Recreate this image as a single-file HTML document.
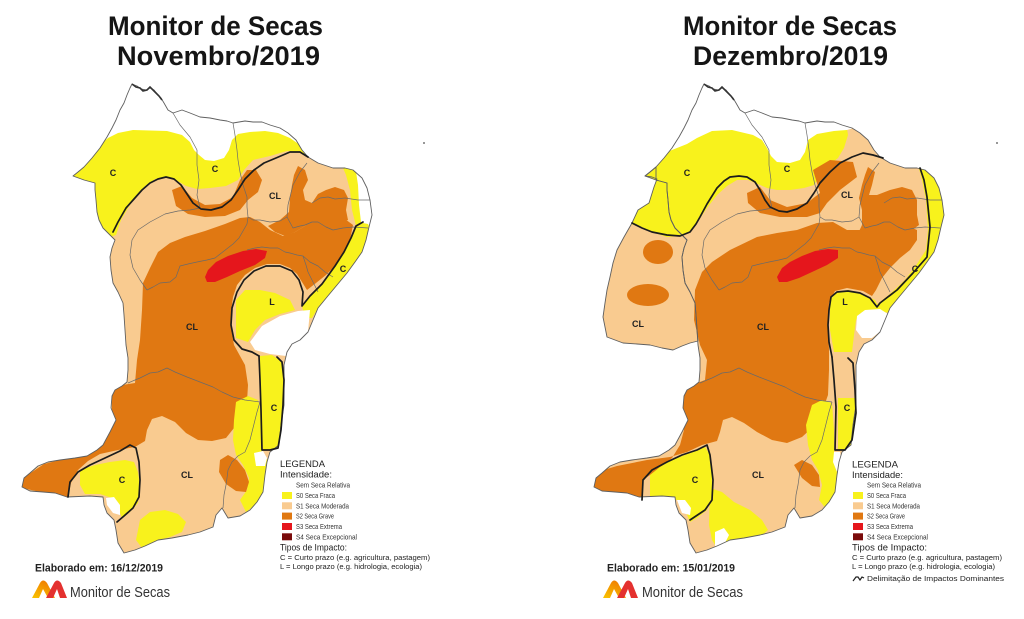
<!DOCTYPE html>
<html><head><meta charset="utf-8"><style>
html,body{margin:0;padding:0;background:#fff}
svg{display:block}
</style></head><body>
<svg width="1024" height="619" viewBox="0 0 1024 619" xmlns="http://www.w3.org/2000/svg" font-family="'Liberation Sans', Arial, sans-serif">
<defs>
<linearGradient id="lg" x1="0" y1="1" x2="0.6" y2="0"><stop offset="0" stop-color="#f9c400"/><stop offset="1" stop-color="#f07e00"/></linearGradient>
<clipPath id="clipL"><path d="M132,84 L137,86 L141,89 L146,90 L150,88 L154,90 L157,94 L161,98 L164,103 L168,110 L173,113 L182,110 L190,113 L200,117 L210,118 L220,120 L227,121 L233,123 L245,121 L253,122 L262,122 L270,125 L280,128 L288,133 L296,140 L302,150 L308,157 L318,163 L333,168 L345,168 L353,170 L362,178 L367,188 L370,200 L372,215 L369,227 L366,240 L362,252 L355,262 L347,273 L337,285 L327,297 L318,308 L313,320 L308,332 L300,340 L292,344 L287,352 L284,365 L284,385 L284,405 L281,425 L279,445 L270,452 L267,462 L265,475 L263,492 L257,502 L250,510 L240,516 L228,518 L222,508 L216,515 L213,527 L200,532 L188,535 L172,538 L158,540 L145,546 L135,550 L124,553 L118,543 L116,530 L114,520 L107,513 L104,505 L103,497 L90,496 L67,497 L55,493 L43,492 L30,491 L22,487 L24,478 L30,473 L38,466 L48,462 L60,460 L75,458 L87,456 L97,450 L103,445 L110,432 L116,420 L111,408 L112,396 L115,390 L122,386 L127,382 L128,370 L128,358 L126,345 L125,330 L124,315 L123,303 L118,292 L113,283 L111,270 L110,257 L112,248 L115,240 L109,234 L103,228 L99,220 L97,212 L96,200 L95,190 L95,183 L84,180 L73,176 L78,172 L84,167 L92,158 L100,148 L107,137 L112,128 L116,120 L120,110 L124,103 L127,95 L130,88 Z"/></clipPath>
<clipPath id="clipR"><path d="M132,84 L137,86 L141,89 L146,90 L150,88 L154,90 L157,94 L161,98 L164,103 L168,110 L173,113 L182,110 L190,113 L200,117 L210,118 L220,120 L227,121 L233,123 L245,121 L253,122 L262,122 L270,125 L280,128 L288,133 L296,140 L302,150 L308,157 L318,163 L333,168 L345,168 L353,170 L362,178 L367,188 L370,200 L372,215 L369,227 L366,240 L362,252 L355,262 L347,273 L337,285 L327,297 L318,308 L313,320 L308,332 L300,340 L292,344 L287,352 L284,365 L284,385 L284,405 L281,425 L279,445 L270,452 L267,462 L265,475 L263,492 L257,502 L250,510 L240,516 L228,518 L222,508 L216,515 L213,527 L200,532 L188,535 L172,538 L158,540 L145,546 L135,550 L124,553 L118,543 L116,530 L114,520 L107,513 L104,505 L103,497 L90,496 L67,497 L55,493 L43,492 L30,491 L22,487 L24,478 L30,473 L38,466 L48,462 L60,460 L75,458 L87,456 L97,450 L103,445 L110,432 L116,420 L111,408 L112,396 L115,390 L122,386 L127,382 L128,370 L128,358 L126,345 L125,330 L124,315 L123,303 L118,292 L113,283 L111,270 L110,257 L112,248 L115,240 L109,234 L103,228 L99,220 L97,212 L96,200 L95,190 L95,183 L84,180 L73,176 L78,172 L84,167 L92,158 L100,148 L107,137 L112,128 L116,120 L120,110 L124,103 L127,95 L130,88 Z"/><path d="M84,167 L78,172 L73,176 L80,177 L85,179 L82,187 L77,203 L66,210 L60,223 L52,237 L45,250 L41,263 L38,277 L35,290 L33,303 L31,317 L35,337 L51,343 L65,344 L78,345 L90,348 L101,350 L110,346 L118,343 L126,341 L125,330 L124,315 L123,303 L118,292 L113,283 L111,270 L110,257 L112,248 L115,240 L109,234 L103,228 L99,220 L97,212 L96,200 L95,190 L95,183 L84,180 Z"/></clipPath>
<path id="OL" d="M132,84 L137,86 L141,89 L146,90 L150,88 L154,90 L157,94 L161,98 L164,103 L168,110 L173,113 L182,110 L190,113 L200,117 L210,118 L220,120 L227,121 L233,123 L245,121 L253,122 L262,122 L270,125 L280,128 L288,133 L296,140 L302,150 L308,157 L318,163 L333,168 L345,168 L353,170 L362,178 L367,188 L370,200 L372,215 L369,227 L366,240 L362,252 L355,262 L347,273 L337,285 L327,297 L318,308 L313,320 L308,332 L300,340 L292,344 L287,352 L284,365 L284,385 L284,405 L281,425 L279,445 L270,452 L267,462 L265,475 L263,492 L257,502 L250,510 L240,516 L228,518 L222,508 L216,515 L213,527 L200,532 L188,535 L172,538 L158,540 L145,546 L135,550 L124,553 L118,543 L116,530 L114,520 L107,513 L104,505 L103,497 L90,496 L67,497 L55,493 L43,492 L30,491 L22,487 L24,478 L30,473 L38,466 L48,462 L60,460 L75,458 L87,456 L97,450 L103,445 L110,432 L116,420 L111,408 L112,396 L115,390 L122,386 L127,382 L128,370 L128,358 L126,345 L125,330 L124,315 L123,303 L118,292 L113,283 L111,270 L110,257 L112,248 L115,240 L109,234 L103,228 L99,220 L97,212 L96,200 L95,190 L95,183 L84,180 L73,176 L78,172 L84,167 L92,158 L100,148 L107,137 L112,128 L116,120 L120,110 L124,103 L127,95 L130,88 Z"/>
<path id="LOBE" d="M84,167 L78,172 L73,176 L80,177 L85,179 L82,187 L77,203 L66,210 L60,223 L52,237 L45,250 L41,263 L38,277 L35,290 L33,303 L31,317 L35,337 L51,343 L65,344 L78,345 L90,348 L101,350 L110,346 L118,343 L126,341 L125,330 L124,315 L123,303 L118,292 L113,283 L111,270 L110,257 L112,248 L115,240 L109,234 L103,228 L99,220 L97,212 L96,200 L95,190 L95,183 L84,180 Z"/>
<g id="BORDERS" fill="none" stroke="#6a6a6a" stroke-width="0.7" stroke-linejoin="round">
<path d="M173,113 L180,125 L190,137 L197,150 L197,165 L199,180 L197,195 L200,208 L190,210 L178,211 L165,214 L150,222 L138,230 L132,240 L130,255 L133,268 L140,280 L147,290"/>
<path d="M147,290 L153,287 L160,283 L170,282 L176,277 L180,266 L188,264 L197,262 L207,260 L215,258 L224,251 L233,244 L239,238 L243,231 L247,224 L248,217 L247,207 L247,197 L243,185 L240,172 L238,160 L237,150 L235,135 L233,123"/>
<path d="M307,163 L300,172 L293,185 L290,197 L288,205 L287,217 L280,221 L270,222 L260,220 L253,220 L248,217"/>
<path d="M287,217 L293,228 L300,226 L305,225 L312,222 L318,222 L326,227 L333,230 L343,228 L353,227 L368,228"/>
<path d="M312,203 L320,198 L328,197 L335,199 L345,198 L358,200 L370,200"/>
<path d="M247,250 L255,248 L262,247 L270,248 L278,248 L285,252 L290,253 L297,255 L303,256 L310,262 L318,266 L325,272 L333,277"/>
<path d="M303,256 L306,265 L308,272 L313,282 L318,292"/>
<path d="M128,383 L135,380 L140,378 L150,373 L158,372 L167,368 L175,372 L187,377 L200,382 L213,387 L222,392 L233,397 L245,400 L260,402"/>
<path d="M260,402 L257,412 L255,420 L252,432 L250,440 L245,452 L238,456 L232,462 L228,470 L227,478 L226,485 L224,495 L223,508"/>
</g>
</defs>

<rect width="1024" height="619" fill="#fff"/>

<!-- Titles -->
<g font-weight="bold" fill="#151515" font-size="27">
<text x="108" y="35" textLength="215" lengthAdjust="spacingAndGlyphs">Monitor de Secas</text>
<text x="117" y="65" textLength="203" lengthAdjust="spacingAndGlyphs">Novembro/2019</text>
<text x="683" y="35" textLength="214" lengthAdjust="spacingAndGlyphs">Monitor de Secas</text>
<text x="693" y="65" textLength="195" lengthAdjust="spacingAndGlyphs">Dezembro/2019</text>
</g>

<!-- ============ LEFT MAP ============ -->
<g>
<use href="#OL" fill="#f9cb90"/>
<g clip-path="url(#clipL)">
  <path fill="#f8f21c" d="M40,100 L320,100 L330,160 L310,158 L300,152 L287,151 L270,156 L253,160 L244,170 L238,180 L226,186 L210,188 L197,189 L186,186 L176,180 L166,177 L155,179 L145,186 L136,196 L128,208 L121,220 L116,235 L100,240 L40,240 Z"/>
  <path fill="#ffffff" d="M40,60 L400,60 L400,165 L360,165 L340,166 L325,163 L312,155 L300,145 L290,138 L278,133 L265,131 L250,132 L238,134 L232,140 L229,150 L224,158 L214,161 L205,160 L199,155 L194,150 L190,142 L182,135 L167,131 L133,130 L118,133 L108,138 L100,145 L40,145 Z"/>
  <path fill="#f8f21c" d="M343,168 L356,168 L360,190 L361,210 L363,222 L356,226 L352,210 L350,190 L346,175 Z"/>
  <path fill="#ffffff" d="M355,165 L400,160 L400,232 L366,228 L361,222 L359,205 L358,185 Z"/>
  <path fill="#e07812" d="M172,190 L182,186 L192,198 L205,205 L220,204 L233,197 L240,180 L247,170 L256,170 L262,180 L258,192 L248,200 L240,210 L225,216 L205,217 L188,214 L176,206 Z"/>
  <path fill="#e07812" d="M298,166 L305,170 L308,180 L303,190 L305,200 L312,203 L318,194 L326,190 L335,187 L344,190 L348,198 L346,210 L348,220 L340,222 L330,220 L318,222 L305,226 L295,232 L285,236 L275,232 L268,226 L280,220 L289,212 L290,198 L292,185 L294,175 Z"/>
  <path fill="#e07812" d="M143,283 L150,268 L158,252 L170,243 L185,237 L205,231 L225,224 L240,218 L250,217 L260,222 L270,230 L283,236 L295,232 L305,226 L318,220 L333,217 L345,219 L353,225 L350,240 L344,255 L336,265 L326,275 L316,283 L307,290 L302,282 L297,274 L290,268 L280,264 L267,264 L255,268 L245,275 L237,285 L233,297 L231,312 L231,328 L234,345 L245,365 L248,385 L247,402 L241,414 L234,428 L226,438 L212,441 L198,440 L186,433 L175,422 L162,416 L152,419 L147,430 L145,441 L135,447 L118,450 L100,454 L88,461 L78,470 L71,483 L68,497 L45,493 L22,488 L24,478 L32,472 L44,464 L60,460 L80,456 L97,449 L108,432 L112,410 L112,392 L122,385 L135,383 L137,360 L140,340 L142,310 Z"/>
  <path fill="#f8f21c" d="M236,402 L248,396 L258,400 L262,412 L262,440 L262,455 L268,460 L266,480 L262,495 L255,505 L246,512 L240,500 L247,490 L249,478 L243,465 L236,455 L233,440 L234,420 Z"/>
  <path fill="#e07812" d="M220,460 L228,455 L237,460 L245,470 L249,482 L246,492 L236,491 L226,484 L219,472 Z"/>
  <path fill="#e5161c" d="M205,277 L208,270 L216,262 L228,256 L243,251 L256,249 L267,251 L265,258 L255,265 L240,271 L227,277 L215,282 L207,282 Z"/>
  <path fill="#f8f21c" d="M358,222 L368,224 L372,232 L366,245 L358,258 L348,272 L337,285 L327,297 L318,308 L312,318 L305,318 L302,306 L310,296 L322,284 L335,266 L345,250 L351,236 Z"/>
  <path fill="#f8f21c" d="M236,300 L245,290 L260,290 L275,293 L290,300 L295,310 L280,314 L265,320 L255,330 L248,342 L236,338 Z"/>
  <path fill="#ffffff" d="M250,342 L262,326 L280,316 L298,311 L310,310 L308,332 L300,342 L290,346 L286,356 L270,354 L255,350 Z"/>
  <path fill="#f8f21c" d="M260,356 L272,355 L282,362 L284,380 L284,410 L281,430 L278,448 L263,450 L261,420 L260,390 Z"/>
  <path fill="#ffffff" d="M254,453 L263,451 L267,458 L265,466 L256,466 Z"/>
  <path fill="#f8f21c" d="M80,470 L95,465 L110,462 L125,460 L134,462 L138,472 L140,488 L138,503 L130,512 L122,518 L118,508 L112,498 L100,494 L85,494 L80,485 Z"/>
  <path fill="#ffffff" d="M106,498 L114,497 L120,505 L120,515 L113,513 L107,505 Z"/>
  <path fill="#f8f21c" d="M140,520 L150,512 L165,510 L178,514 L186,522 L182,532 L170,537 L155,541 L142,548 L136,540 Z"/>
</g>
<use href="#BORDERS"/>
<use href="#OL" fill="none" stroke="#5f5f5f" stroke-width="0.9" stroke-linejoin="round"/>
<path d="M132,84 L136,87 L140,88 L143,91 L147,90 L150,87 L153,90 L156,93 L159,96 L162,100" fill="none" stroke="#333" stroke-width="1.6"/>
<g fill="none" stroke="#1c1c1c" stroke-width="1.7" stroke-linejoin="round" stroke-linecap="round">
  <path d="M113,232 L118,222 L126,208 L134,199 L142,190 L150,183 L158,179 L166,177 L174,179 L181,185 L187,194 L193,203 L201,209 L211,210 L222,207 L231,200 L238,190 L245,179 L254,170 L264,163 L276,158 L290,152 L300,152 L308,157"/>
  <path d="M363,222 L356,226 L351,238 L344,252 L335,266 L322,284 L310,296 L302,306 L303,292 L299,280 L292,271 L280,266 L266,266 L254,271 L244,280 L237,292 L232,308 L231,325 L234,340 L242,349 L252,352 L259,356"/>
  <path d="M259,356 L260,380 L261,410 L262,450 L270,450 L278,448 L281,430 L283,405 L284,380 L282,362 L277,357"/>
  <path d="M68,497 L70,482 L78,472 L90,465 L105,458 L120,451 L130,445 L136,448 L139,462 L140,480 L139,497 L133,508 L124,516 L117,522"/>
</g>
<g font-weight="bold" font-size="9" fill="#222" text-anchor="middle">
  <text x="113" y="176">C</text>
  <text x="215" y="172">C</text>
  <text x="275" y="199">CL</text>
  <text x="343" y="272">C</text>
  <text x="272" y="305">L</text>
  <text x="192" y="330">CL</text>
  <text x="274" y="411">C</text>
  <text x="122" y="483">C</text>
  <text x="187" y="478">CL</text>
</g>
<circle cx="424" cy="143" r="1" fill="#777"/>
</g>

<!-- ============ RIGHT MAP ============ -->
<g transform="translate(572,0)">
<use href="#OL" fill="#f9cb90"/>
<use href="#LOBE" fill="#f9cb90"/>
<g clip-path="url(#clipR)">
  <path fill="#f8f21c" d="M20,110 L272,110 L276,135 L272,148 L266,158 L256,166 L248,176 L242,185 L232,188 L218,190 L205,190 L195,188 L186,184 L176,180 L165,180 L155,186 L145,195 L135,208 L127,220 L118,232 L108,236 L95,237 L80,232 L68,226 L58,224 L20,224 Z"/>
  <path fill="#ffffff" d="M20,60 L400,60 L400,128 L300,128 L285,127 L275,130 L262,131 L245,134 L236,140 L233,152 L228,160 L218,163 L205,162 L199,156 L195,148 L190,140 L181,135 L160,130 L140,131 L125,138 L115,144 L105,148 L95,152 L20,152 Z"/>
  <path fill="#f8f21c" d="M346,165 L390,160 L390,320 L310,312 L303,306 L318,294 L333,280 L345,264 L354,250 L356,230 L354,200 L350,180 Z"/>
  <path fill="#e07812" d="M175,193 L188,187 L198,200 L215,207 L235,203 L248,193 L241,170 L258,160 L281,162 L285,177 L268,190 L255,203 L248,213 L235,217 L208,217 L188,213 L176,203 Z"/>
  <path fill="#e07812" d="M296,167 L303,172 L300,185 L297,195 L305,195 L318,190 L330,187 L340,190 L345,200 L345,215 L347,225 L340,230 L325,233 L310,240 L295,245 L283,240 L290,225 L290,210 L287,198 L290,185 L293,175 Z"/>
  <path fill="#e07812" d="M123,290 L130,272 L140,262 L158,250 L185,237 L205,233 L225,230 L245,223 L261,222 L275,230 L291,230 L308,227 L328,223 L345,230 L345,240 L338,250 L328,258 L318,268 L310,278 L304,290 L300,296 L291,291 L275,288 L263,291 L257,303 L256,323 L257,350 L257,370 L256,395 L250,412 L241,427 L230,437 L215,443 L200,440 L185,432 L172,423 L160,417 L151,420 L148,432 L145,441 L130,445 L115,452 L98,457 L75,460 L45,466 L25,472 L20,485 L23,493 L41,493 L58,497 L70,500 L71,480 L85,470 L100,458 L108,445 L112,430 L108,410 L110,392 L120,385 L133,380 L135,360 L128,345 L122,320 Z"/>
  <ellipse cx="86" cy="252" rx="15" ry="12" fill="#e07812"/>
  <ellipse cx="76" cy="295" rx="21" ry="11" fill="#e07812"/>
  <path fill="#e5161c" d="M205,277 L210,268 L218,262 L230,256 L243,251 L256,249 L266,250 L266,258 L255,265 L240,272 L227,278 L215,282 L207,282 Z"/>
  <path fill="#f8f21c" d="M258,300 L265,292 L276,290 L290,294 L303,300 L308,310 L300,312 L290,312 L284,320 L282,335 L280,352 L262,352 L258,330 Z"/>
  <path fill="#ffffff" d="M285,316 L293,310 L308,309 L316,314 L310,330 L300,338 L290,338 L284,330 Z"/>
  <path fill="#f8f21c" d="M240,405 L250,400 L260,403 L262,430 L262,452 L268,456 L268,480 L263,500 L255,510 L247,500 L250,485 L246,470 L240,460 L236,445 L234,425 Z"/>
  <path fill="#e07812" d="M222,465 L230,460 L240,465 L247,475 L248,487 L240,486 L230,478 Z"/>
  <path fill="#f8f21c" d="M266,398 L285,398 L283,420 L281,440 L277,450 L266,450 Z"/>
  <path fill="#ffffff" d="M262,452 L268,452 L270,465 L265,472 L261,462 Z"/>
  <path fill="#f8f21c" d="M78,475 L88,467 L100,460 L118,453 L133,447 L138,455 L140,475 L140,495 L135,510 L125,518 L118,522 L113,510 L105,500 L90,498 L78,498 Z"/>
  <path fill="#ffffff" d="M105,500 L113,500 L119,508 L118,515 L110,513 Z"/>
  <path fill="#f8f21c" d="M138,488 L150,492 L162,502 L178,510 L190,520 L196,530 L188,537 L170,541 L155,545 L145,548 L140,540 L137,525 Z"/>
  <path fill="#ffffff" d="M143,532 L152,528 L157,535 L152,545 L143,546 Z"/>
</g>
<use href="#BORDERS"/>
<use href="#LOBE" fill="none" stroke="#5f5f5f" stroke-width="0.9" stroke-linejoin="round"/>
<use href="#OL" fill="none" stroke="#5f5f5f" stroke-width="0.9" stroke-linejoin="round"/>
<path d="M132,84 L136,87 L140,88 L143,91 L147,90 L150,87 L153,90 L156,93 L159,96 L162,100" fill="none" stroke="#333" stroke-width="1.6"/>
<g fill="none" stroke="#1c1c1c" stroke-width="1.7" stroke-linejoin="round" stroke-linecap="round">
  <path d="M60,223 L70,228 L80,232 L95,235 L108,236 L118,232 L124,224 L128,217 L135,204 L145,188 L152,181 L158,177 L167,176 L175,177 L183,182 L188,190 L193,200 L198,207 L207,211 L215,212 L225,209 L235,203 L242,193 L248,183 L258,172 L268,163 L280,157 L291,153 L301,155 L311,158"/>
  <path d="M348,168 L352,180 L355,197 L358,227 L355,257 L348,265 L341,273 L325,290 L308,303 L305,307 L298,298 L288,293 L276,291 L265,292 L259,297 L257,310 L256,325 L257,342 L260,357"/>
  <path d="M260,357 L262,380 L264,407 L263,450 L273,450 L280,440 L284,413 L283,390 L281,363 L276,358"/>
  <path d="M70,500 L71,480 L80,470 L95,462 L110,455 L125,450 L135,445 L138,455 L141,480 L140,500 L133,510 L118,520"/>
</g>
<g font-weight="bold" font-size="9" fill="#222" text-anchor="middle">
  <text x="115" y="176">C</text>
  <text x="215" y="172">C</text>
  <text x="275" y="198">CL</text>
  <text x="343" y="272">C</text>
  <text x="273" y="305">L</text>
  <text x="66" y="327">CL</text>
  <text x="191" y="330">CL</text>
  <text x="275" y="411">C</text>
  <text x="123" y="483">C</text>
  <text x="186" y="478">CL</text>
</g>
<circle cx="425" cy="143" r="1" fill="#777"/>
</g>

<!-- ============ LEGENDS ============ -->
<g fill="#222">
  <text x="280" y="467" font-size="9.5" textLength="45" lengthAdjust="spacingAndGlyphs">LEGENDA</text>
  <text x="280" y="477.5" font-size="9" textLength="52" lengthAdjust="spacingAndGlyphs">Intensidade:</text>
  <rect x="282" y="481.5" width="10" height="7" fill="#ffffff"/>
  <rect x="282" y="492" width="10" height="7" fill="#f8f21c"/>
  <rect x="282" y="502.3" width="10" height="7" fill="#f9cb90"/>
  <rect x="282" y="512.6" width="10" height="7" fill="#e07812"/>
  <rect x="282" y="523" width="10" height="7" fill="#e5161c"/>
  <rect x="282" y="533.3" width="10" height="7" fill="#7a0b0b"/>
  <g font-size="7.2" fill="#333">
    <text x="296" y="487.6" textLength="54" lengthAdjust="spacingAndGlyphs">Sem Seca Relativa</text>
    <text x="296" y="498" textLength="39" lengthAdjust="spacingAndGlyphs">S0 Seca Fraca</text>
    <text x="296" y="508.3" textLength="53" lengthAdjust="spacingAndGlyphs">S1 Seca Moderada</text>
    <text x="296" y="518.6" textLength="38" lengthAdjust="spacingAndGlyphs">S2 Seca Grave</text>
    <text x="296" y="529" textLength="46" lengthAdjust="spacingAndGlyphs">S3 Seca Extrema</text>
    <text x="296" y="539.3" textLength="61" lengthAdjust="spacingAndGlyphs">S4 Seca Excepcional</text>
  </g>
  <text x="280" y="550.5" font-size="9" textLength="67" lengthAdjust="spacingAndGlyphs">Tipos de Impacto:</text>
  <text x="280" y="560" font-size="7" textLength="150" lengthAdjust="spacingAndGlyphs">C = Curto prazo (e.g. agricultura, pastagem)</text>
  <text x="280" y="569" font-size="7" textLength="142" lengthAdjust="spacingAndGlyphs">L = Longo prazo (e.g. hidrologia, ecologia)</text>
</g>
<g fill="#222">
  <text x="852" y="467.5" font-size="9.5" textLength="46" lengthAdjust="spacingAndGlyphs">LEGENDA</text>
  <text x="852" y="478" font-size="9" textLength="51" lengthAdjust="spacingAndGlyphs">Intensidade:</text>
  <rect x="853" y="481.5" width="10" height="7" fill="#ffffff"/>
  <rect x="853" y="492" width="10" height="7" fill="#f8f21c"/>
  <rect x="853" y="502.3" width="10" height="7" fill="#f9cb90"/>
  <rect x="853" y="512.6" width="10" height="7" fill="#e07812"/>
  <rect x="853" y="523" width="10" height="7" fill="#e5161c"/>
  <rect x="853" y="533.3" width="10" height="7" fill="#7a0b0b"/>
  <g font-size="7.2" fill="#333">
    <text x="867" y="487.6" textLength="54" lengthAdjust="spacingAndGlyphs">Sem Seca Relativa</text>
    <text x="867" y="498" textLength="39" lengthAdjust="spacingAndGlyphs">S0 Seca Fraca</text>
    <text x="867" y="508.3" textLength="53" lengthAdjust="spacingAndGlyphs">S1 Seca Moderada</text>
    <text x="867" y="518.6" textLength="38" lengthAdjust="spacingAndGlyphs">S2 Seca Grave</text>
    <text x="867" y="529" textLength="46" lengthAdjust="spacingAndGlyphs">S3 Seca Extrema</text>
    <text x="867" y="539.3" textLength="61" lengthAdjust="spacingAndGlyphs">S4 Seca Excepcional</text>
  </g>
  <text x="852" y="550.5" font-size="9" textLength="75" lengthAdjust="spacingAndGlyphs">Tipos de Impacto:</text>
  <text x="852" y="560" font-size="7" textLength="150" lengthAdjust="spacingAndGlyphs">C = Curto prazo (e.g. agricultura, pastagem)</text>
  <text x="852" y="569" font-size="7" textLength="143" lengthAdjust="spacingAndGlyphs">L = Longo prazo (e.g. hidrologia, ecologia)</text>
  <path d="M853,581 L856,577 L858,577 L860,580 L862,577 L864,578" fill="none" stroke="#222" stroke-width="1.2"/>
  <text x="867" y="581" font-size="7" textLength="137" lengthAdjust="spacingAndGlyphs">Delimitação de Impactos Dominantes</text>
</g>

<!-- ============ FOOTERS ============ -->
<g font-weight="bold" font-size="11" fill="#222">
  <text x="35" y="571.5" textLength="128" lengthAdjust="spacingAndGlyphs">Elaborado em: 16/12/2019</text>
  <text x="607" y="571.5" textLength="128" lengthAdjust="spacingAndGlyphs">Elaborado em: 15/01/2019</text>
</g>
<g font-size="14.5" fill="#333">
  <text x="70" y="597" textLength="100" lengthAdjust="spacingAndGlyphs">Monitor de Secas</text>
  <text x="642" y="597" textLength="101" lengthAdjust="spacingAndGlyphs">Monitor de Secas</text>
</g>
<g>
  <path d="M32,598 L40,583 Q43,578 47,583 L55,598 L48,598 L43,589 L39,598 Z" fill="url(#lg)"/>
  <path d="M46,598 L54,583 Q57,578 61,583 L67,598 L60,598 L57,589 L53,598 Z" fill="#e4312f"/>
  <path d="M603,598 L611,583 Q614,578 618,583 L626,598 L619,598 L614,589 L610,598 Z" fill="url(#lg)"/>
  <path d="M617,598 L625,583 Q628,578 632,583 L638,598 L631,598 L628,589 L624,598 Z" fill="#e4312f"/>
</g>
</svg>
</body></html>
